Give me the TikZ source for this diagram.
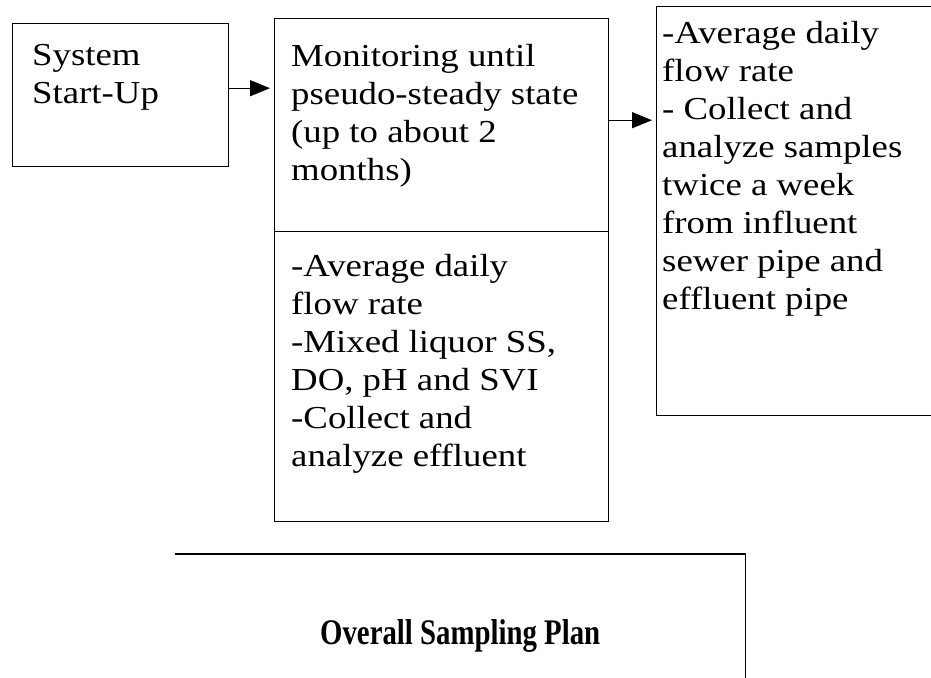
\documentclass[tikz,border=0pt]{standalone}
\usepackage{fontspec}
\setmainfont{Liberation Serif}[FakeStretch=1.15]
\newfontfamily\planfont{Liberation Serif}[FakeStretch=0.8]
\usetikzlibrary{arrows.meta,positioning}

\begin{document}
\begin{tikzpicture}[x=1pt,y=-1pt,
		box/.style = {draw,line width=1.4pt,inner sep=0pt,anchor=north west},
		txt/.style = {inner sep=0pt,align=left,font=\fontsize{32}{38}\selectfont},
		flow/.style = {-{Triangle[length=20pt,width=16pt]},line width=1.4pt,shorten >=4pt}]
		\clip (0,0) rectangle (931,677);
		\node (start) at (12,23) [box,minimum width=216pt,minimum height=143pt] {};
		\node (monitor) at (274,18) [box,minimum width=334pt,minimum height=213pt] {};
		\node (measure) at (274,231) [box,minimum width=334pt,minimum height=290pt] {};
		\node (sample) at (656,6) [box,minimum width=300pt,minimum height=409pt] {};
		\node (plan) at (175,554) [anchor=north west,inner sep=0pt,minimum width=570pt,minimum height=164pt] {};
		\draw [line width=1.4pt] (plan.north west) -- (plan.north east) -- ++(0,140);
		\node (startText) [txt,below right=21pt and 20pt of start.north west] {System\\Start-Up};
		\node (monitorText) [txt,below right=26pt and 17pt of monitor.north west] {Monitoring until\\pseudo-steady state\\(up to about 2\\months)};
		\node (measureText) [txt,below right=23pt and 17pt of measure.north west] {-Average daily\\flow rate\\-Mixed liquor SS,\\DO, pH and SVI\\-Collect and\\analyze effluent};
		\node (sampleText) [txt,below right=15pt and 6pt of sample.north west] {-Average daily\\flow rate\\- Collect and\\analyze samples\\twice a week\\from influent\\sewer pipe and\\effluent pipe};
		\node (planText) at (plan.center) [font=\planfont\fontsize{36}{40}\selectfont\bfseries] {Overall Sampling Plan};
		\draw [flow] ([yshift=7pt]start.east) -- ([yshift=7pt]start.east -| monitor.west);
		\draw [flow] ([yshift=5pt]monitor.east) -- ([yshift=5pt]monitor.east -| sample.west);
	\end{tikzpicture}
\end{document}
